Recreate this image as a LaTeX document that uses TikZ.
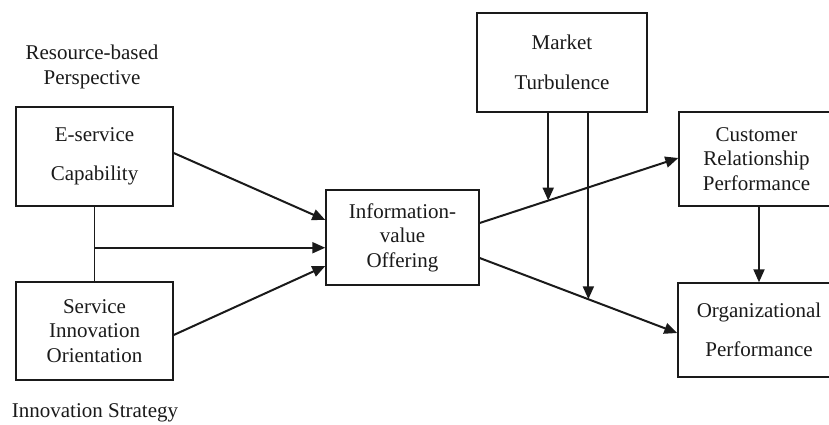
\documentclass[tikz,border=0pt]{standalone}
\usepackage{fontspec}
\setmainfont{Liberation Serif}
\usetikzlibrary{arrows.meta,calc}
\definecolor{ink}{HTML}{1A1A1A}
\begin{document}
\begin{tikzpicture}[x=1pt,y=-1pt,
  every node/.style={text=ink,font=\fontsize{21}{24.5}\selectfont},
  box/.style={draw=ink,line width=1.4pt,rectangle,inner sep=0pt,align=center},
  link/.style={draw=ink,line width=2pt,-{Triangle[length=13pt,width=11pt]}},
  plain/.style={draw=ink,line width=1pt},
  caption/.style={align=center,inner sep=0pt}]
\useasboundingbox (0,0) rectangle (829,425);
\clip (0,0) rectangle (829,425);

% construct boxes
\node[box,minimum width=157pt,minimum height=99pt] (es) at (94.5,156.5)
  {E-service\\[15pt]Capability};
\node[box,minimum width=157pt,minimum height=98pt] (sio) at (94.5,331)
  {Service\\Innovation\\Orientation};
\node[box,minimum width=153pt,minimum height=95pt] (ivo) at (402.5,237.5)
  {Information-\\value\\Offering};
\node[box,minimum width=170pt,minimum height=99pt] (mt) at (562,62.5)
  {Market\\[15pt]Turbulence};
\node[box,minimum width=155pt,minimum height=94pt] (crp) at (756.5,159)
  {Customer\\Relationship\\Performance};
\node[box,minimum width=162pt,minimum height=94pt] (op) at (759,330)
  {Organizational\\[15pt]Performance};

% theory labels
\node[caption] (rbp) at (92,67) {Resource-based\\Perspective};
\node[caption] (ist) at (95,413) {Innovation Strategy};

% joint effect of the two antecedents
\coordinate (jn) at ($(es.south)!0.55!(sio.north)$);
\draw[plain] (es.south) -- (sio.north);
\draw[link] (jn) -- (jn -| ivo.west);

% antecedents -> information-value offering
\draw[link] ([yshift=3.5pt]es.east) -- ([yshift=17.5pt]ivo.west);
\draw[link] ([yshift=-4pt]sio.east) -- ([yshift=-28.5pt]ivo.west);

% offering -> outcomes
\coordinate (a1) at ([yshift=14.5pt]ivo.east);
\coordinate (a2) at ([yshift=1pt]crp.west);
\coordinate (b1) at ([yshift=-20.5pt]ivo.east);
\coordinate (b2) at ([yshift=-3pt]op.west);
\draw[link] (a1) -- (a2);
\draw[link] (b1) -- (b2);

% moderating effects of market turbulence
\coordinate (m1) at ($(a1)!0.345!(a2)$);
\coordinate (m2) at ($(b1)!0.55!(b2)$);
\draw[link] (mt.south -| m1) -- (m1);
\draw[link] (mt.south -| m2) -- (m2);

% relationship performance -> organizational performance
\draw[link] (crp.south -| 759,0) -- (op.north -| 759,0);
\end{tikzpicture}
\end{document}
